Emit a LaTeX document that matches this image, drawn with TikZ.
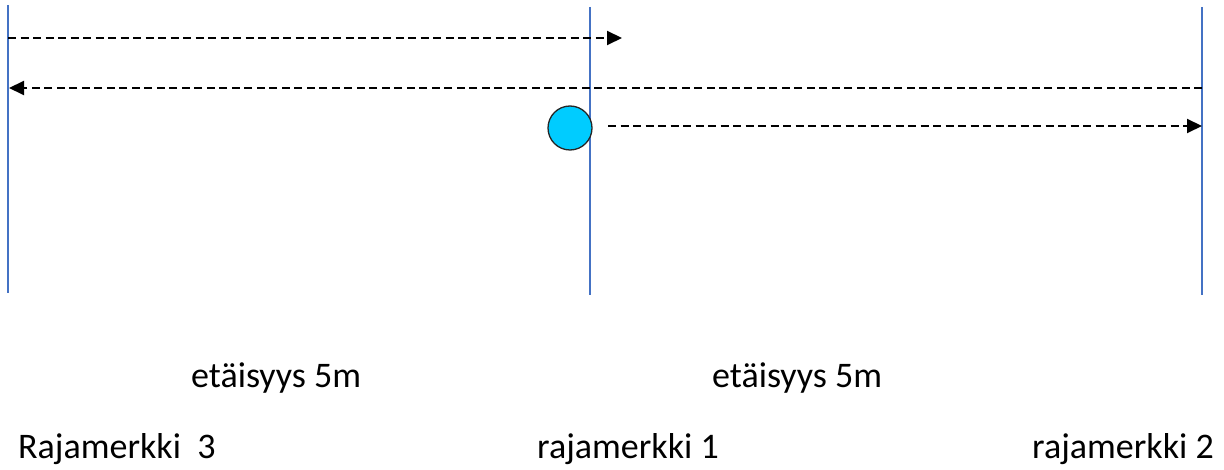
\documentclass[tikz,border=0pt]{standalone}
\usepackage{fontspec}
\setmainfont{Carlito}
\usetikzlibrary{arrows.meta}
\definecolor{markline}{HTML}{4472C4}
\definecolor{ballfill}{HTML}{00CCFF}
\tikzset{
  marker/.style={draw=markline, line width=1.6pt},
  moveline/.style={draw=black, line width=2pt, dash pattern=on 8pt off 4.5pt,
    -{Triangle[length=15pt,width=14pt]}},
  label/.style={inner sep=0pt, anchor=base west, font=\fontsize{36}{40}\selectfont},
  ball/.style={circle, draw=black!85, line width=1.3pt, fill=ballfill,
    minimum size=44pt, inner sep=0pt}
}
\begin{document}
\begin{tikzpicture}[x=1pt,y=-1pt]
\useasboundingbox (0,0) rectangle (1224,470);
% boundary marker lines
\coordinate (l3top) at (8,5);   \coordinate (l3bot) at (8,293);
\coordinate (l1top) at (590,7); \coordinate (l1bot) at (590,295);
\coordinate (l2top) at (1202,7);\coordinate (l2bot) at (1202,295);
\draw[marker] (l3top) -- (l3bot);
\draw[marker] (l1top) -- (l1bot);
\draw[marker] (l2top) -- (l2bot);
% arrow end points
\coordinate (a1s) at (8,38);    \coordinate (a1e) at (622,38);
\coordinate (a2s) at (1202,88); \coordinate (a2e) at (9,88);
\coordinate (a3s) at (608,126); \coordinate (a3e) at (1202,126);
\draw[moveline] (a1s) -- (a1e);
\draw[moveline] (a2s) -- (a2e);
\draw[moveline] (a3s) -- (a3e);
% ball
\node[ball] (ball) at (570,128) {};
% labels
\node[label] (d1) at (191,388) {etäisyys 5m};
\node[label] (d2) at (712,388) {etäisyys 5m};
\node[label] (r3) at (18,458) {Rajamerkki\ \ 3};
\node[label] (r1) at (537,458) {rajamerkki 1};
\node[label] (r2) at (1032,458) {rajamerkki 2};
\end{tikzpicture}
\end{document}
